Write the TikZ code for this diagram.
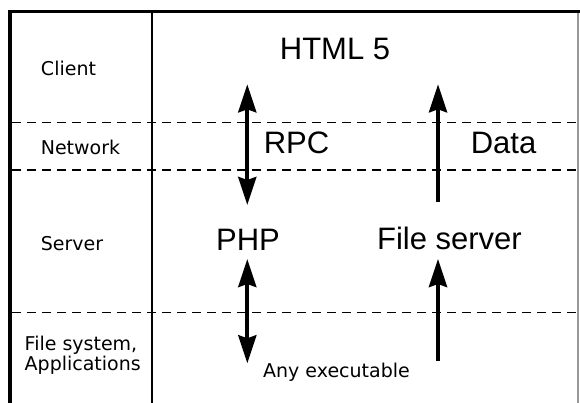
\documentclass[tikz,border=0pt]{standalone}
\usepackage{fontspec}
\setmainfont{Liberation Sans}
\newfontfamily\dvs{DejaVu Sans}
\usetikzlibrary{arrows.meta}
\begin{document}
\begin{tikzpicture}[x=1pt,y=-1pt,
  big/.style={inner sep=0pt, anchor=base, font=\fontsize{31}{37}\selectfont},
  small/.style={inner sep=0pt, anchor=base, font=\dvs\fontsize{19}{23}\selectfont},
  smallleft/.style={small, anchor=base west},
  layer/.style={line width=1.3pt, dash pattern=on 9pt off 6pt},
  tipS/.style={},
  flow/.style={line width=4pt, -{Stealth[length=28pt,width=18pt,inset=3pt]}},
  bflow/.style={line width=4pt, {Stealth[length=28pt,width=18pt,inset=3pt]}-{Stealth[length=28pt,width=18pt,inset=3pt]}}]
\fill[white] (0,0) rectangle (580,403);
\useasboundingbox (0,0) rectangle (580,403);
% frame
\draw[line width=3.5pt, line join=miter] (10.2,403) -- (10.2,11.7) -- (580,11.7);
\draw[line width=1.5pt, color=black!40] (578.2,13.5) -- (578.2,403);
\draw[line width=1.8pt] (152,13.5) -- (152,403);
% layer separators
\draw[layer] (12,122.5) -- (577,122.5);
\draw[layer] (12,170) -- (577,170);
\draw[layer] (12,312.7) -- (577,312.7);
% left labels
\node[small] (client) at (68.5,76) {Client};
\node[small] (network) at (80.5,155) {Network};
\node[small] (server) at (72,250) {Server};
\node[smallleft] (fs) at (24.5,350) {File system,};
\node[smallleft] (apps) at (24.5,370) {Applications};
% main labels
\node[big] (html) at (335,60) {HTML 5};
\node[big] (rpc) at (296.5,154) {RPC};
\node[big] (data) at (503.5,154) {Data};
\node[big] (php) at (248,250) {PHP};
\node[big] (fileserver) at (449.5,249) {File server};
\node[small] (anyexe) at (336.5,377) {Any executable};
% arrow end points
\coordinate (a1t) at (247.3,84.3);
\coordinate (a1b) at (247.3,205);
\coordinate (a2t) at (438,84.3);
\coordinate (a2b) at (438,202);
\coordinate (a3t) at (247.3,259);
\coordinate (a3b) at (247.3,363.3);
\coordinate (a4t) at (438,259);
\coordinate (a4b) at (438,361);
\draw[bflow] (a1t) -- (a1b);
\draw[flow] (a2b) -- (a2t);
\draw[bflow] (a3t) -- (a3b);
\draw[flow] (a4b) -- (a4t);
\end{tikzpicture}
\end{document}
